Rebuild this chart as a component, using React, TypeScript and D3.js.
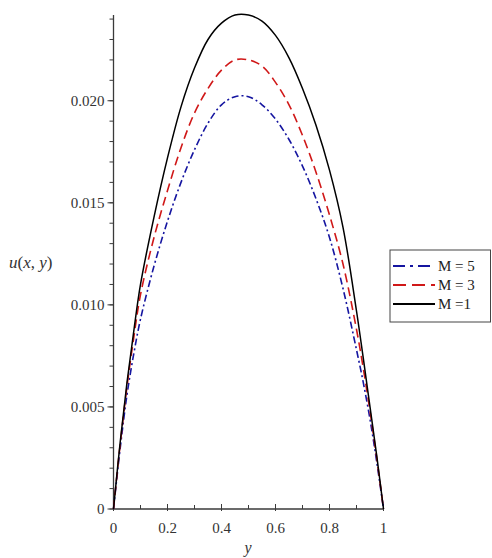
import React from "react";
import * as d3 from "d3";

const xs = [0, 0.025, 0.05, 0.075, 0.1, 0.15, 0.2, 0.25, 0.3, 0.35, 0.4, 0.45, 0.5, 0.55, 0.6, 0.65, 0.7, 0.75, 0.8, 0.85, 0.9, 0.925, 0.95, 0.975, 1];
const uM1 = [0, 0.0033, 0.0062, 0.0087, 0.0110, 0.0143, 0.0172, 0.0197, 0.0216, 0.0230, 0.0238, 0.0242, 0.0242, 0.0239, 0.0232, 0.0221, 0.0206, 0.0188, 0.0166, 0.0138, 0.0097, 0.0074, 0.0050, 0.0026, 0];
const uM3 = [0, 0.0032, 0.0060, 0.0084, 0.0105, 0.0133, 0.0156, 0.0177, 0.0194, 0.0206, 0.0215, 0.0220, 0.0220, 0.0217, 0.0209, 0.0198, 0.0183, 0.0165, 0.0144, 0.0120, 0.0088, 0.0069, 0.0048, 0.0025, 0];
const uM5 = [0, 0.0030, 0.0056, 0.0076, 0.0093, 0.0119, 0.0141, 0.0160, 0.0176, 0.0189, 0.0198, 0.0202, 0.0202, 0.0198, 0.0191, 0.0181, 0.0168, 0.0152, 0.0133, 0.0108, 0.0078, 0.0062, 0.0044, 0.0023, 0];

const seriesNames = ["M = 5", "M = 3", "M =1"];
const yTickLabels = ["0", "0.005", "0.010", "0.015", "0.020"];
const xTickLabels = ["0", "0.2", "0.4", "0.6", "0.8", "1"];

export default function App() {
  const W = 492, H = 558;
  const x = d3.scaleLinear().domain([0, 1]).range([113.5, 383.5]);
  const y = d3.scaleLinear().domain([0, 0.0242]).range([509, 15]);
  const font = "'Liberation Serif', 'Times New Roman', serif";
  const series = [
    { name: seriesNames[0], vals: uM5, color: "#1515a0", dash: "7,3,2,3", width: 1.6 },
    { name: seriesNames[1], vals: uM3, color: "#d01818", dash: "9,5", width: 1.6 },
    { name: seriesNames[2], vals: uM1, color: "#000000", dash: "", width: 1.5 },
  ];
  const line = (vals: number[]) =>
    d3.line<number>().x((_, i) => x(xs[i])).y((d) => y(d)).curve(d3.curveCatmullRom.alpha(0.5))(vals) || "";

  const yMinor = d3.range(0, 0.02401, 0.001);
  const yMajor = [0, 0.005, 0.01, 0.015, 0.02];
  const xMinor = d3.range(0, 1.0001, 0.1);
  const xMajor = [0, 0.2, 0.4, 0.6, 0.8, 1];
  const axisColor = "#3a3a3a";

  return (
    <svg width={W} height={H} style={{ position: "absolute", left: 0, top: 0, background: "#fff" }}>
      <rect width={W} height={H} fill="#fff" />
      {/* axes */}
      <line x1={x(0)} x2={x(0)} y1={y(0)} y2={15} stroke={axisColor} strokeWidth={1.3} />
      <line x1={x(0)} x2={x(1)} y1={y(0)} y2={y(0)} stroke={axisColor} strokeWidth={1.3} />
      {yMinor.map((v, i) => (
        <line key={"ym" + i} x1={x(0) - 4} x2={x(0)} y1={y(v)} y2={y(v)} stroke={axisColor} strokeWidth={1} />
      ))}
      {yMajor.map((v, i) => (
        <g key={"yM" + i}>
          <line x1={x(0) - 6} x2={x(0)} y1={y(v)} y2={y(v)} stroke={axisColor} strokeWidth={1} />
          <text x={x(0) - 9} y={y(v) + 5} textAnchor="end" fontFamily={font} fontSize={15} fill="#333">
            {yTickLabels[i]}
          </text>
        </g>
      ))}
      {xMinor.map((v, i) => (
        <line key={"xm" + i} x1={x(v)} x2={x(v)} y1={y(0)} y2={y(0) - 4} stroke={axisColor} strokeWidth={1} />
      ))}
      {xMajor.map((v, i) => (
        <g key={"xM" + i}>
          <line x1={x(v)} x2={x(v)} y1={y(0) + 2} y2={y(0) - 5} stroke={axisColor} strokeWidth={1} />
          <text x={x(v)} y={533} textAnchor="middle" fontFamily={font} fontSize={15} fill="#333">
            {xTickLabels[i]}
          </text>
        </g>
      ))}
      <text x={248} y={553} textAnchor="middle" fontFamily={font} fontSize={16} fontStyle="italic" fill="#333">y</text>
      <text x={9} y={268} fontFamily={font} fontSize={17} fill="#333">
        <tspan fontStyle="italic">u</tspan>
        <tspan>(</tspan>
        <tspan fontStyle="italic">x</tspan>
        <tspan>, </tspan>
        <tspan fontStyle="italic">y</tspan>
        <tspan>)</tspan>
      </text>
      {/* curves */}
      {series.map((s) => (
        <path key={s.name} d={line(s.vals)} fill="none" stroke={s.color} strokeWidth={s.width}
          strokeDasharray={s.dash || undefined} />
      ))}
      {/* legend */}
      <rect x={390} y={250} width={100.5} height={72} fill="#fff" stroke="#444" strokeWidth={1} />
      {series.map((s, i) => {
        const yy = 266 + i * 19;
        return (
          <g key={"lg" + i}>
            <line x1={393} x2={435} y1={yy} y2={yy} stroke={s.color} strokeWidth={2}
              strokeDasharray={s.dash ? (i === 0 ? "12,5,3,5" : "13,6") : undefined} />
            <text x={438} y={yy + 5} fontFamily={font} fontSize={15} fill="#222">{s.name}</text>
          </g>
        );
      })}
    </svg>
  );
}
